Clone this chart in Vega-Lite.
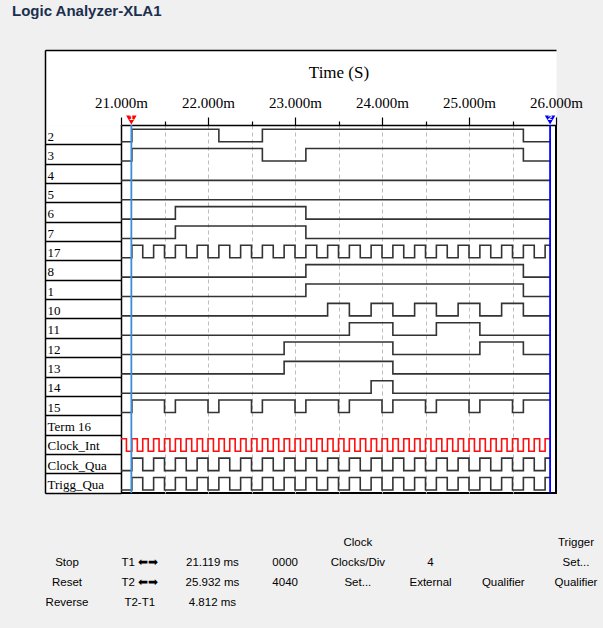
{
"$schema":"https://vega.github.io/schema/vega-lite/v6.json",
"width":435,"height":368,
"autosize":{"type":"none"},
"padding":{"left":121,"top":125,"right":47,"bottom":135},
"background":"#f0f0f0",
"config":{"view":{"stroke":"#000","strokeWidth":2,"fill":"#ffffff"}},
"title":{"text":"Logic Analyzer-XLA1","anchor":"start","frame":"group","dx":-109,"offset":29,"font":"Liberation Sans","fontSize":15,"fontWeight":"bold","color":"#1b2f4e"},
"datasets":{
"wave":[
{"i":0,"t":21,"v":0},{"i":0,"t":21.125,"v":1},{"i":0,"t":22.125,"v":0},{"i":0,"t":22.625,"v":1},{"i":0,"t":25.625,"v":0},{"i":0,"t":25.932,"v":0},
{"i":1,"t":21,"v":0},{"i":1,"t":21.125,"v":1},{"i":1,"t":22.625,"v":0},{"i":1,"t":23.125,"v":1},{"i":1,"t":25.625,"v":0},{"i":1,"t":25.932,"v":0},
{"i":2,"t":21,"v":0},{"i":2,"t":25.932,"v":0},
{"i":3,"t":21,"v":0},{"i":3,"t":25.932,"v":0},
{"i":4,"t":21,"v":0},{"i":4,"t":21.625,"v":1},{"i":4,"t":23.125,"v":0},{"i":4,"t":25.932,"v":0},
{"i":5,"t":21,"v":0},{"i":5,"t":21.625,"v":1},{"i":5,"t":23.125,"v":0},{"i":5,"t":25.932,"v":0},
{"i":6,"t":21,"v":0},{"i":6,"t":21.125,"v":1},{"i":6,"t":21.25,"v":0},{"i":6,"t":21.375,"v":1},{"i":6,"t":21.5,"v":0},{"i":6,"t":21.625,"v":1},{"i":6,"t":21.75,"v":0},{"i":6,"t":21.875,"v":1},{"i":6,"t":22,"v":0},{"i":6,"t":22.125,"v":1},{"i":6,"t":22.25,"v":0},{"i":6,"t":22.375,"v":1},{"i":6,"t":22.5,"v":0},{"i":6,"t":22.625,"v":1},{"i":6,"t":22.75,"v":0},{"i":6,"t":22.875,"v":1},{"i":6,"t":23,"v":0},{"i":6,"t":23.125,"v":1},{"i":6,"t":23.25,"v":0},{"i":6,"t":23.375,"v":1},{"i":6,"t":23.5,"v":0},{"i":6,"t":23.625,"v":1},{"i":6,"t":23.75,"v":0},{"i":6,"t":23.875,"v":1},{"i":6,"t":24,"v":0},{"i":6,"t":24.125,"v":1},{"i":6,"t":24.25,"v":0},{"i":6,"t":24.375,"v":1},{"i":6,"t":24.5,"v":0},{"i":6,"t":24.625,"v":1},{"i":6,"t":24.75,"v":0},{"i":6,"t":24.875,"v":1},{"i":6,"t":25,"v":0},{"i":6,"t":25.125,"v":1},{"i":6,"t":25.25,"v":0},{"i":6,"t":25.375,"v":1},{"i":6,"t":25.5,"v":0},{"i":6,"t":25.625,"v":1},{"i":6,"t":25.75,"v":0},{"i":6,"t":25.875,"v":1},{"i":6,"t":25.932,"v":1},
{"i":7,"t":21,"v":0},{"i":7,"t":23.125,"v":1},{"i":7,"t":25.625,"v":0},{"i":7,"t":25.932,"v":0},
{"i":8,"t":21,"v":0},{"i":8,"t":23.125,"v":1},{"i":8,"t":25.625,"v":0},{"i":8,"t":25.932,"v":0},
{"i":9,"t":21,"v":0},{"i":9,"t":23.375,"v":1},{"i":9,"t":23.625,"v":0},{"i":9,"t":23.875,"v":1},{"i":9,"t":24.125,"v":0},{"i":9,"t":24.375,"v":1},{"i":9,"t":24.625,"v":0},{"i":9,"t":24.875,"v":1},{"i":9,"t":25.125,"v":0},{"i":9,"t":25.375,"v":1},{"i":9,"t":25.625,"v":0},{"i":9,"t":25.932,"v":0},
{"i":10,"t":21,"v":0},{"i":10,"t":23.625,"v":1},{"i":10,"t":24.125,"v":0},{"i":10,"t":24.625,"v":1},{"i":10,"t":25.125,"v":0},{"i":10,"t":25.932,"v":0},
{"i":11,"t":21,"v":0},{"i":11,"t":22.875,"v":1},{"i":11,"t":24.125,"v":0},{"i":11,"t":25.125,"v":1},{"i":11,"t":25.625,"v":0},{"i":11,"t":25.932,"v":0},
{"i":12,"t":21,"v":0},{"i":12,"t":22.875,"v":1},{"i":12,"t":24.125,"v":0},{"i":12,"t":25.932,"v":0},
{"i":13,"t":21,"v":0},{"i":13,"t":23.875,"v":1},{"i":13,"t":24.125,"v":0},{"i":13,"t":25.932,"v":0},
{"i":14,"t":21,"v":0},{"i":14,"t":21.125,"v":1},{"i":14,"t":21.5,"v":0},{"i":14,"t":21.625,"v":1},{"i":14,"t":22,"v":0},{"i":14,"t":22.125,"v":1},{"i":14,"t":22.5,"v":0},{"i":14,"t":22.625,"v":1},{"i":14,"t":23,"v":0},{"i":14,"t":23.125,"v":1},{"i":14,"t":23.5,"v":0},{"i":14,"t":23.625,"v":1},{"i":14,"t":24,"v":0},{"i":14,"t":24.125,"v":1},{"i":14,"t":24.5,"v":0},{"i":14,"t":24.625,"v":1},{"i":14,"t":25,"v":0},{"i":14,"t":25.125,"v":1},{"i":14,"t":25.5,"v":0},{"i":14,"t":25.625,"v":1},{"i":14,"t":25.932,"v":1},
{"i":17,"t":21,"v":0},{"i":17,"t":21.125,"v":1},{"i":17,"t":21.25,"v":0},{"i":17,"t":21.375,"v":1},{"i":17,"t":21.5,"v":0},{"i":17,"t":21.625,"v":1},{"i":17,"t":21.75,"v":0},{"i":17,"t":21.875,"v":1},{"i":17,"t":22,"v":0},{"i":17,"t":22.125,"v":1},{"i":17,"t":22.25,"v":0},{"i":17,"t":22.375,"v":1},{"i":17,"t":22.5,"v":0},{"i":17,"t":22.625,"v":1},{"i":17,"t":22.75,"v":0},{"i":17,"t":22.875,"v":1},{"i":17,"t":23,"v":0},{"i":17,"t":23.125,"v":1},{"i":17,"t":23.25,"v":0},{"i":17,"t":23.375,"v":1},{"i":17,"t":23.5,"v":0},{"i":17,"t":23.625,"v":1},{"i":17,"t":23.75,"v":0},{"i":17,"t":23.875,"v":1},{"i":17,"t":24,"v":0},{"i":17,"t":24.125,"v":1},{"i":17,"t":24.25,"v":0},{"i":17,"t":24.375,"v":1},{"i":17,"t":24.5,"v":0},{"i":17,"t":24.625,"v":1},{"i":17,"t":24.75,"v":0},{"i":17,"t":24.875,"v":1},{"i":17,"t":25,"v":0},{"i":17,"t":25.125,"v":1},{"i":17,"t":25.25,"v":0},{"i":17,"t":25.375,"v":1},{"i":17,"t":25.5,"v":0},{"i":17,"t":25.625,"v":1},{"i":17,"t":25.75,"v":0},{"i":17,"t":25.875,"v":1},{"i":17,"t":25.932,"v":1},
{"i":18,"t":21,"v":0},{"i":18,"t":21.125,"v":1},{"i":18,"t":21.25,"v":0},{"i":18,"t":21.375,"v":1},{"i":18,"t":21.5,"v":0},{"i":18,"t":21.625,"v":1},{"i":18,"t":21.75,"v":0},{"i":18,"t":21.875,"v":1},{"i":18,"t":22,"v":0},{"i":18,"t":22.125,"v":1},{"i":18,"t":22.25,"v":0},{"i":18,"t":22.375,"v":1},{"i":18,"t":22.5,"v":0},{"i":18,"t":22.625,"v":1},{"i":18,"t":22.75,"v":0},{"i":18,"t":22.875,"v":1},{"i":18,"t":23,"v":0},{"i":18,"t":23.125,"v":1},{"i":18,"t":23.25,"v":0},{"i":18,"t":23.375,"v":1},{"i":18,"t":23.5,"v":0},{"i":18,"t":23.625,"v":1},{"i":18,"t":23.75,"v":0},{"i":18,"t":23.875,"v":1},{"i":18,"t":24,"v":0},{"i":18,"t":24.125,"v":1},{"i":18,"t":24.25,"v":0},{"i":18,"t":24.375,"v":1},{"i":18,"t":24.5,"v":0},{"i":18,"t":24.625,"v":1},{"i":18,"t":24.75,"v":0},{"i":18,"t":24.875,"v":1},{"i":18,"t":25,"v":0},{"i":18,"t":25.125,"v":1},{"i":18,"t":25.25,"v":0},{"i":18,"t":25.375,"v":1},{"i":18,"t":25.5,"v":0},{"i":18,"t":25.625,"v":1},{"i":18,"t":25.75,"v":0},{"i":18,"t":25.875,"v":1},{"i":18,"t":25.932,"v":1}
],
"clk":[
{"i":16,"t":21,"v":1},{"i":16,"t":21.0625,"v":0},{"i":16,"t":21.125,"v":1},{"i":16,"t":21.1875,"v":0},{"i":16,"t":21.25,"v":1},{"i":16,"t":21.3125,"v":0},{"i":16,"t":21.375,"v":1},{"i":16,"t":21.4375,"v":0},{"i":16,"t":21.5,"v":1},{"i":16,"t":21.5625,"v":0},{"i":16,"t":21.625,"v":1},{"i":16,"t":21.6875,"v":0},{"i":16,"t":21.75,"v":1},{"i":16,"t":21.8125,"v":0},{"i":16,"t":21.875,"v":1},{"i":16,"t":21.9375,"v":0},{"i":16,"t":22,"v":1},{"i":16,"t":22.0625,"v":0},{"i":16,"t":22.125,"v":1},{"i":16,"t":22.1875,"v":0},{"i":16,"t":22.25,"v":1},{"i":16,"t":22.3125,"v":0},{"i":16,"t":22.375,"v":1},{"i":16,"t":22.4375,"v":0},{"i":16,"t":22.5,"v":1},{"i":16,"t":22.5625,"v":0},{"i":16,"t":22.625,"v":1},{"i":16,"t":22.6875,"v":0},{"i":16,"t":22.75,"v":1},{"i":16,"t":22.8125,"v":0},{"i":16,"t":22.875,"v":1},{"i":16,"t":22.9375,"v":0},{"i":16,"t":23,"v":1},{"i":16,"t":23.0625,"v":0},{"i":16,"t":23.125,"v":1},{"i":16,"t":23.1875,"v":0},{"i":16,"t":23.25,"v":1},{"i":16,"t":23.3125,"v":0},{"i":16,"t":23.375,"v":1},{"i":16,"t":23.4375,"v":0},{"i":16,"t":23.5,"v":1},{"i":16,"t":23.5625,"v":0},{"i":16,"t":23.625,"v":1},{"i":16,"t":23.6875,"v":0},{"i":16,"t":23.75,"v":1},{"i":16,"t":23.8125,"v":0},{"i":16,"t":23.875,"v":1},{"i":16,"t":23.9375,"v":0},{"i":16,"t":24,"v":1},{"i":16,"t":24.0625,"v":0},{"i":16,"t":24.125,"v":1},{"i":16,"t":24.1875,"v":0},{"i":16,"t":24.25,"v":1},{"i":16,"t":24.3125,"v":0},{"i":16,"t":24.375,"v":1},{"i":16,"t":24.4375,"v":0},{"i":16,"t":24.5,"v":1},{"i":16,"t":24.5625,"v":0},{"i":16,"t":24.625,"v":1},{"i":16,"t":24.6875,"v":0},{"i":16,"t":24.75,"v":1},{"i":16,"t":24.8125,"v":0},{"i":16,"t":24.875,"v":1},{"i":16,"t":24.9375,"v":0},{"i":16,"t":25,"v":1},{"i":16,"t":25.0625,"v":0},{"i":16,"t":25.125,"v":1},{"i":16,"t":25.1875,"v":0},{"i":16,"t":25.25,"v":1},{"i":16,"t":25.3125,"v":0},{"i":16,"t":25.375,"v":1},{"i":16,"t":25.4375,"v":0},{"i":16,"t":25.5,"v":1},{"i":16,"t":25.5625,"v":0},{"i":16,"t":25.625,"v":1},{"i":16,"t":25.6875,"v":0},{"i":16,"t":25.75,"v":1},{"i":16,"t":25.8125,"v":0},{"i":16,"t":25.875,"v":1},{"i":16,"t":25.932,"v":1}
],
"cur":[{"cursor":"T1","num":"1","t":21.119},{"cursor":"T2","num":"2","t":25.932}],
"ui":[
{"col":"c1","row":"r1","txt":"Stop"},{"col":"c1","row":"r2","txt":"Reset"},{"col":"c1","row":"r3","txt":"Reverse"},
{"col":"c2","row":"r1","txt":"T1 ⬅➡"},{"col":"c2","row":"r2","txt":"T2 ⬅➡"},{"col":"c2","row":"r3","txt":"T2-T1"},
{"col":"c3","row":"r1","txt":"21.119 ms"},{"col":"c3","row":"r2","txt":"25.932 ms"},{"col":"c3","row":"r3","txt":"4.812 ms"},
{"col":"c4","row":"r1","txt":"0000"},{"col":"c4","row":"r2","txt":"4040"},
{"col":"c5","row":"r0","txt":"Clock"},{"col":"c5","row":"r1","txt":"Clocks/Div"},{"col":"c5","row":"r2","txt":"Set..."},
{"col":"c6","row":"r1","txt":"4"},{"col":"c6","row":"r2","txt":"External"},
{"col":"c7","row":"r2","txt":"Qualifier"},
{"col":"c8","row":"r0","txt":"Trigger"},{"col":"c8","row":"r1","txt":"Set..."},{"col":"c8","row":"r2","txt":"Qualifier"}
]
},
"layer":[
{"data":{"name":"cur"},
 "mark":{"type":"point","opacity":0},
 "encoding":{
  "x":{"field":"t","type":"quantitative","scale":{"range":[-76,435]},"axis":{"orient":"top","offset":37.5,"domainWidth":75,"domainColor":"#ffffff","ticks":false,"labels":false,"grid":false,"title":null}},
  "y":{"field":"t","type":"quantitative","axis":{"orient":"left","offset":38,"domainWidth":76,"domainColor":"#ffffff","ticks":false,"labels":false,"grid":false,"title":null}}}},
{"data":{"name":"cur"},
 "mark":{"type":"point","opacity":0},
 "encoding":{
  "x":{"field":"t","type":"quantitative","scale":{"range":[-76,435]},"axis":{"orient":"top","offset":75,"domainWidth":1.5,"domainColor":"#000000","ticks":false,"labels":false,"grid":false,"title":null}},
  "y":{"field":"t","type":"quantitative","scale":{"range":[368,-75]},"axis":{"orient":"left","offset":76,"domainWidth":1.5,"domainColor":"#000000","ticks":false,"labels":false,"grid":false,"title":null}}}},
{"layer":[
 {"data":{"name":"wave"},
  "transform":[{"calculate":"datum.i + 0.863 - 0.646*datum.v","as":"y"}],
  "mark":{"type":"line","interpolate":"step-after","stroke":"#333333","strokeWidth":1.6},
  "encoding":{
   "x":{"field":"t","type":"quantitative","scale":{"domain":[21,26],"nice":false,"zero":false},
    "axis":{"orient":"top","title":"Time (S)","titleFont":"Liberation Serif","titleFontSize":17,"titleFontWeight":"normal","titleColor":"#000","titlePadding":14,
     "values":[21,21.5,22,22.5,23,23.5,24,24.5,25,25.5,26],"tickCount":40,
     "labelExpr":"datum.value % 1 == 0 ? format(datum.value,'.3f') + 'm' : ''",
     "labelFont":"Liberation Serif","labelFontSize":15,"labelColor":"#000","labelPadding":7,"labelFlush":false,"labelOverlap":false,"labelBound":false,
     "tickSize":{"condition":{"test":"datum.value % 1 == 0","value":8},"value":4},"tickColor":"#000","tickWidth":1.2,
     "domainColor":"#000","domainWidth":1.5,
     "grid":true,"gridDash":[4,3],"gridColor":"#bdbdbd","gridWidth":1,
     "gridOpacity":{"condition":{"test":"datum.value == 21 || datum.value == 26","value":0},"value":1}}},
   "y":{"field":"y","type":"quantitative","scale":{"domain":[0,19.02],"reverse":true,"nice":false,"zero":false},
    "axis":{"orient":"left","title":null,"grid":false,"values":[1,2,3,4,5,6,7,8,9,10,11,12,13,14,15,16,17,18,19],"tickCount":40,
     "labelExpr":"['2','3','4','5','6','7','17','8','1','10','11','12','13','14','15','Term 16','Clock_Int','Clock_Qua','Trigg_Qua'][datum.value-1]",
     "tickSize":76,"tickColor":"#000","tickWidth":1.5,"domainColor":"#000","domainWidth":1.5,
     "labelAlign":"left","labelBaseline":"alphabetic","labelPadding":-2,"labelOffset":-4,
     "labelFont":"Liberation Serif","labelFontSize":13,"labelColor":"#000000","labelLimit":90,"labelOverlap":false,"labelFlush":false,"labelBound":false}},
   "detail":{"field":"i","type":"nominal"}}},
 {"data":{"name":"clk"},
  "transform":[{"calculate":"datum.i + 0.863 - 0.646*datum.v","as":"y"}],
  "mark":{"type":"line","interpolate":"step-after","stroke":"#ff1010","strokeWidth":1.6},
  "encoding":{"x":{"field":"t","type":"quantitative","axis":null},"y":{"field":"y","type":"quantitative","axis":null}}},
 {"data":{"name":"cur"},
  "mark":{"type":"rule","strokeWidth":1.8},
  "encoding":{"x":{"field":"t","type":"quantitative","axis":null},
   "color":{"condition":{"test":"datum.cursor == 'T1'","value":"#3a8ed6"},"value":"#0000ff"}}},
 {"data":{"name":"cur"},
  "mark":{"type":"point","shape":"triangle-down","filled":true,"size":110,"yOffset":-5,"opacity":1},
  "encoding":{"x":{"field":"t","type":"quantitative","axis":null},"y":{"datum":0,"axis":null},
   "color":{"condition":{"test":"datum.cursor == 'T1'","value":"#ff0000"},"value":"#0000ff"}}},
 {"data":{"name":"cur"},
  "mark":{"type":"text","fontSize":8,"fontWeight":"bold","color":"#ffffff","dy":-7,"font":"Liberation Sans"},
  "encoding":{"x":{"field":"t","type":"quantitative","axis":null},"y":{"datum":0,"axis":null},"text":{"field":"num"}}}
 ],
 "resolve":{"axis":{"x":"independent","y":"independent"}}
},
{"data":{"name":"ui"},
 "mark":{"type":"text","font":"Liberation Sans","fontSize":11.5,"color":"#000","align":"center","baseline":"middle"},
 "encoding":{
  "x":{"field":"col","type":"nominal","axis":null,"scale":{"type":"point","domain":["c1","c2","c3","c4","c5","c6","c7","c8"],"range":[-54,455],"padding":0}},
  "y":{"field":"row","type":"nominal","axis":null,"scale":{"type":"point","domain":["r0","r1","r2","r3"],"range":[418,478],"padding":0}},
  "text":{"field":"txt"}}}
],
"resolve":{"scale":{"x":"independent","y":"independent"}}
}
